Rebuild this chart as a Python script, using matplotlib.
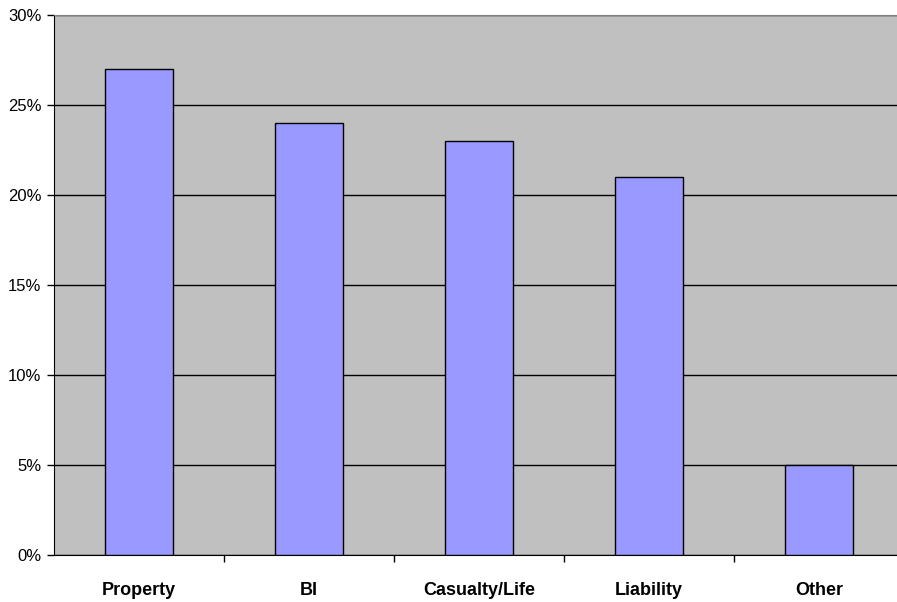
import matplotlib
matplotlib.use("Agg")
import matplotlib.pyplot as plt
from matplotlib.ticker import FuncFormatter

categories = ["Property", "BI", "Casualty/Life", "Liability", "Other"]
values = [27, 24, 23, 21, 5]
yticks = [0, 5, 10, 15, 20, 25, 30]

plt.rcParams['font.family'] = ['Liberation Sans', 'DejaVu Sans']

W, H = 897, 602
fig = plt.figure(figsize=(W / 100, H / 100), dpi=100)
ax = fig.add_axes([54 / W, (H - 555) / H, (904 - 54) / W, 540 / H])
ax.set_facecolor("#C0C0C0")

x = list(range(len(categories)))
ax.bar(x, values, width=0.4, color="#9999FF", edgecolor="black", linewidth=1, zorder=3)

ax.set_xlim(-0.5, len(categories) - 0.5)
ax.set_ylim(0, 30)
ax.set_yticks(yticks)
ax.yaxis.set_major_formatter(FuncFormatter(lambda v, p: f"{int(v)}%"))
ax.yaxis.grid(True, color="black", linewidth=1, zorder=1)
ax.set_axisbelow(True)

ax.set_xticks([i + 0.5 for i in x[:-1]] + [len(categories) - 0.5])
ax.set_xticklabels([])
ax.set_xticks(x, minor=True)
ax.set_xticklabels(categories, minor=True, fontweight="bold", fontsize=13)
ax.tick_params(axis="x", which="major", length=5, width=1, color="black")
ax.tick_params(axis="x", which="minor", length=0, pad=19.5)
ax.tick_params(axis="y", length=5, width=1, labelsize=12, pad=4)

ax.spines["left"].set_color("black")
ax.spines["bottom"].set_color("black")
ax.spines["top"].set_color("#808080")
ax.spines["right"].set_visible(False)

fig.savefig("out.png", dpi=100)
